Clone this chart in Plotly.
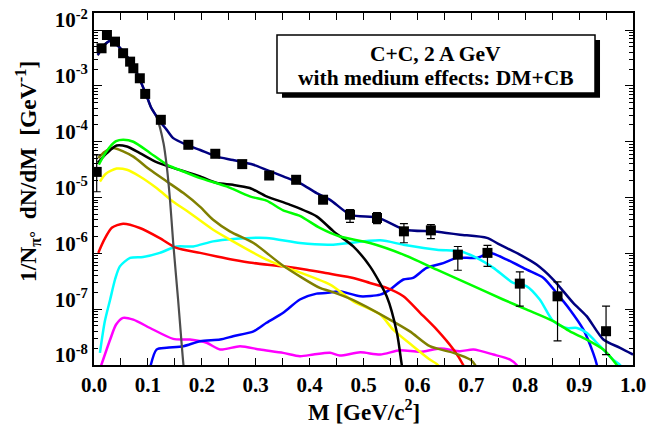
import plotly.graph_objects as go

FONT = "Liberation Serif"

# ---------------- data ----------------
# experimental points
m_data = [0.005, 0.014, 0.024, 0.039, 0.054, 0.067, 0.073, 0.085, 0.095, 0.124,
          0.175, 0.225, 0.275, 0.325, 0.375, 0.425, 0.475, 0.525, 0.575, 0.625,
          0.675, 0.730, 0.790, 0.860, 0.950]
y_data = [2.88e-5, 4.72e-3, 8.17e-3, 6.21e-3, 3.85e-3, 2.72e-3, 2.07e-3, 1.37e-3, 7.19e-4, 2.47e-4,
          8.81e-5, 6.08e-5, 3.97e-5, 2.48e-5, 2.08e-5, 9.14e-6, 4.92e-6, 4.30e-6, 2.48e-6, 2.58e-6,
          9.48e-7, 1.02e-6, 2.87e-7, 1.70e-7, 4.03e-8]
err_plus = [2.92e-5, 0, 0, 0, 0, 0, 0, 0, 0, 0,
            0, 0, 0, 0, 0, 0, 1.13e-6, 1.05e-6, 0.92e-6, 0.68e-6,
            3.8e-7, 3.7e-7, 1.78e-7, 1.38e-7, 7.27e-8]
err_minus = [1.61e-5, 0, 0, 0, 0, 0, 0, 0, 0, 0,
             0, 0, 0, 0, 0, 0, 1.33e-6, 0.90e-6, 0.93e-6, 0.75e-6,
             4.5e-7, 4.35e-7, 1.74e-7, 1.43e-7, 2.49e-8]

# total (navy)
m_tot = [0.007, 0.019, 0.030, 0.041, 0.052, 0.063, 0.074, 0.085, 0.098, 0.106, 0.116, 0.124,
         0.135, 0.147, 0.172, 0.197, 0.228, 0.258, 0.296, 0.320, 0.351, 0.382, 0.413, 0.438,
         0.476, 0.527, 0.577, 0.627, 0.654, 0.679, 0.729, 0.753, 0.790, 0.821, 0.852, 0.889,
         0.914, 0.945, 0.976, 1.000]
y_tot = [3.6e-3, 5.4e-3, 6.4e-3, 5.6e-3, 4.4e-3, 3.2e-3, 2.2e-3, 1.3e-3, 6.5e-4, 4.1e-4, 2.85e-4, 2.2e-4,
         1.63e-4, 1.16e-4, 8.8e-5, 7.1e-5, 5.4e-5, 4.7e-5, 3.86e-5, 3.14e-5, 2.39e-5, 1.82e-5, 1.2e-5, 9.1e-6,
         4.9e-6, 4.35e-6, 2.65e-6, 2.48e-6, 2.32e-6, 2.16e-6, 1.89e-6, 1.43e-6, 9.5e-7, 6.3e-7, 3.4e-7, 1.3e-7,
         7.5e-8, 2.86e-8, 2.03e-8, 1.54e-8]

# grey
m_grey = [0.007, 0.019, 0.030, 0.041, 0.052, 0.063, 0.074, 0.085, 0.098, 0.106, 0.116, 0.129,
          0.135, 0.141, 0.147, 0.156, 0.166, 0.170]
y_grey = [3.5e-3, 5.4e-3, 6.4e-3, 5.6e-3, 4.4e-3, 3.2e-3, 2.2e-3, 1.28e-3, 6.4e-4, 4.05e-4, 2.8e-4, 9.4e-5,
          3.6e-5, 9.1e-6, 1.53e-6, 1.49e-7, 1.0e-8, 5e-9]

# green
m_green = [0.009, 0.019, 0.030, 0.041, 0.054, 0.073, 0.104, 0.135, 0.166, 0.197, 0.246, 0.289,
           0.320, 0.351, 0.382, 0.419, 0.456, 0.512, 0.574, 0.636, 0.698, 0.759, 0.803, 0.852,
           0.883, 0.914, 0.945, 0.970, 0.985]
y_green = [3.9e-5, 5.8e-5, 8.2e-5, 1.02e-4, 1.08e-4, 1.0e-4, 6.3e-5, 3.9e-5, 2.93e-5, 2.23e-5, 1.58e-5, 1.05e-5,
           8.8e-6, 5.9e-6, 4.7e-6, 2.85e-6, 2.0e-6, 1.53e-6, 9.5e-7, 5.1e-7, 2.75e-7, 1.49e-7, 9.8e-8, 6.1e-8,
           4.0e-8, 2.86e-8, 1.89e-8, 1.0e-8, 6e-9]

# black
m_black = [0.007, 0.024, 0.042, 0.061, 0.085, 0.116, 0.147, 0.197, 0.228, 0.258, 0.289, 0.320,
           0.364, 0.413, 0.444, 0.481, 0.512, 0.543, 0.562, 0.571, 0.576]
y_black = [4.2e-5, 6.25e-5, 8.55e-5, 8.2e-5, 6.25e-5, 4.3e-5, 3.4e-5, 2.38e-5, 1.82e-5, 1.69e-5, 1.48e-5, 1.05e-5,
           7.4e-6, 4.6e-6, 2.5e-6, 1.33e-6, 5.85e-7, 1.7e-7, 3.77e-8, 1.0e-8, 5e-9]

# olive
m_olive = [0.008, 0.020, 0.036, 0.054, 0.073, 0.104, 0.135, 0.166, 0.197, 0.221, 0.252, 0.296,
           0.351, 0.419, 0.438, 0.481, 0.543, 0.586, 0.623, 0.667, 0.698, 0.707, 0.716]
y_olive = [5.1e-5, 6.6e-5, 7.7e-5, 6.7e-5, 5.4e-5, 3.14e-5, 1.94e-5, 1.2e-5, 6.8e-6, 4.0e-6, 2.48e-6, 1.53e-6,
           6.0e-7, 2.4e-7, 2.1e-7, 1.45e-7, 7.0e-8, 4.0e-8, 2.17e-8, 1.65e-8, 1.25e-8, 1.0e-8, 6e-9]

# yellow
m_yellow = [0.011, 0.022, 0.042, 0.061, 0.085, 0.116, 0.147, 0.172, 0.221, 0.258, 0.320, 0.351,
            0.438, 0.481, 0.531, 0.555, 0.592, 0.623, 0.638, 0.648]
y_yellow = [1.94e-5, 2.67e-5, 3.3e-5, 3.14e-5, 2.38e-5, 1.48e-5, 8.4e-6, 5.8e-6, 2.65e-6, 1.64e-6, 7.7e-7, 5.85e-7,
            2.75e-7, 1.38e-7, 8.0e-8, 4.3e-8, 2.17e-8, 1.25e-8, 1.0e-8, 6e-9]

# red
m_red = [0.008, 0.019, 0.033, 0.054, 0.085, 0.122, 0.153, 0.197, 0.228, 0.258, 0.296, 0.351,
         0.395, 0.438, 0.481, 0.512, 0.543, 0.574, 0.605, 0.636, 0.667, 0.685, 0.694]
y_red = [1.02e-6, 1.76e-6, 2.88e-6, 3.4e-6, 2.85e-6, 1.88e-6, 1.25e-6, 1.02e-6, 8.8e-7, 7.7e-7, 6.7e-7, 5.85e-7,
         5.1e-7, 4.3e-7, 3.63e-7, 2.95e-7, 2.4e-7, 1.7e-7, 8.6e-8, 4.3e-8, 1.89e-8, 1.0e-8, 6e-9]

# cyan
m_cyan = [0.011, 0.020, 0.030, 0.039, 0.048, 0.067, 0.091, 0.122, 0.153, 0.184, 0.221, 0.258,
          0.320, 0.382, 0.438, 0.531, 0.574, 0.636, 0.679, 0.710, 0.741, 0.778, 0.803, 0.827,
          0.852, 0.877, 0.896, 0.914, 0.939, 0.963, 0.976, 0.985]
y_cyan = [1.65e-8, 6.0e-8, 1.49e-7, 3.4e-7, 5.85e-7, 8.3e-7, 8.6e-7, 1.02e-6, 1.33e-6, 1.33e-6, 1.64e-6, 1.81e-6,
          1.89e-6, 1.53e-6, 1.43e-6, 1.71e-6, 1.43e-6, 1.16e-6, 1.09e-6, 8.3e-7, 5.5e-7, 2.95e-7, 2.57e-7, 1.49e-7,
          6.1e-8, 4.6e-8, 4.6e-8, 3.77e-8, 2.17e-8, 1.25e-8, 1.0e-8, 6e-9]

# blue
m_blue = [0.100, 0.116, 0.135, 0.166, 0.197, 0.234, 0.258, 0.296, 0.320, 0.351, 0.382, 0.413,
          0.438, 0.456, 0.494, 0.531, 0.549, 0.574, 0.592, 0.617, 0.648, 0.673, 0.710, 0.735,
          0.766, 0.803, 0.834, 0.858, 0.883, 0.908, 0.926, 0.933, 0.937]
y_blue = [6e-9, 1.89e-8, 2.03e-8, 2.17e-8, 2.67e-8, 2.86e-8, 3.27e-8, 4.0e-8, 5.7e-8, 8.6e-8, 1.49e-7, 1.9e-7,
          1.98e-7, 2.09e-7, 1.7e-7, 1.82e-7, 2.24e-7, 3.4e-7, 3.63e-7, 5.5e-7, 6.7e-7, 8.3e-7, 8.3e-7, 1.02e-6,
          7.7e-7, 5.1e-7, 3.63e-7, 1.96e-7, 9.8e-8, 4.3e-8, 1.65e-8, 1.0e-8, 6e-9]

# magenta
m_mag = [0.007, 0.030, 0.041, 0.054, 0.073, 0.104, 0.147, 0.178, 0.209, 0.234, 0.271, 0.308,
         0.351, 0.382, 0.407, 0.438, 0.456, 0.494, 0.531, 0.568, 0.605, 0.642, 0.679, 0.704,
         0.741, 0.772, 0.784, 0.790]
y_mag = [6.5e-9, 2.86e-8, 5.3e-8, 7.0e-8, 6.5e-8, 4.6e-8, 2.94e-8, 2.86e-8, 2.5e-8, 1.89e-8, 2.17e-8, 1.89e-8,
         1.65e-8, 1.44e-8, 1.54e-8, 1.65e-8, 1.48e-8, 1.69e-8, 1.54e-8, 1.84e-8, 1.72e-8, 1.97e-8, 1.77e-8, 1.89e-8,
         1.54e-8, 1.25e-8, 1.0e-8, 6.5e-9]

y_tickvals = [1e-8, 1e-7, 1e-6, 1e-5, 1e-4, 1e-3, 1e-2]
y_ticktext = ["10<sup>-8</sup>", "10<sup>-7</sup>", "10<sup>-6</sup>", "10<sup>-5</sup>",
              "10<sup>-4</sup>", "10<sup>-3</sup>", "10<sup>-2</sup>"]

# ---------------- figure ----------------
fig = go.Figure()

curves = [
    (m_mag, y_mag, "#ff00ff", 2.5),
    (m_blue, y_blue, "#0000ff", 2.5),
    (m_cyan, y_cyan, "#00ffff", 2.5),
    (m_red, y_red, "#ff0000", 2.5),
    (m_yellow, y_yellow, "#ffff00", 2.5),
    (m_olive, y_olive, "#808000", 2.5),
    (m_black, y_black, "#000000", 2.5),
    (m_green, y_green, "#00ff00", 2.5),
    (m_grey, y_grey, "#4d4d4d", 2.2),
    (m_tot, y_tot, "#000080", 2.5),
]
for m, y, c, w in curves:
    fig.add_trace(go.Scatter(x=m, y=y, mode="lines",
                             line=dict(color=c, width=w, shape="spline", smoothing=0.7),
                             showlegend=False, hoverinfo="skip"))

fig.add_trace(go.Scatter(
    x=m_data, y=y_data, mode="markers",
    marker=dict(symbol="square", size=10, color="black"),
    error_y=dict(type="data", array=err_plus, arrayminus=err_minus,
                 color="black", thickness=1.2, width=4),
    showlegend=False))

tickfont = dict(family=FONT, size=21, color="black", weight="bold")

fig.update_layout(
    width=648, height=428,
    margin=dict(l=94, r=15, t=13, b=63),
    plot_bgcolor="white", paper_bgcolor="white",
    showlegend=False,
)

fig.update_xaxes(
    range=[0, 1], tick0=0, dtick=0.1, tickformat=".1f",
    showline=True, linecolor="black", linewidth=1.8, mirror="allticks",
    ticks="inside", ticklen=7, tickwidth=1.2, tickcolor="black",
    minor=dict(ticks="inside", ticklen=7, tickwidth=1.2, dtick=0.05, tickcolor="black"),
    showgrid=False, zeroline=False, tickfont=tickfont, automargin=False,
)

fig.update_yaxes(
    type="log", range=[-8, -1.694],
    tickvals=y_tickvals, ticktext=y_ticktext, ticklabelshift=-10,
    showline=True, linecolor="black", linewidth=1.8, mirror="allticks",
    ticks="inside", ticklen=8, tickwidth=1.2, tickcolor="black",
    minor=dict(ticks="inside", ticklen=4, tickwidth=1, dtick="D1", tickcolor="black"),
    showgrid=False, zeroline=False, tickfont=tickfont, automargin=False,
)

# Axis titles
fig.add_annotation(text="M [GeV/c<sup>2</sup>]", xref="paper", yref="paper",
                   x=0.5, y=-0.129, xanchor="center", yanchor="middle", showarrow=False,
                   font=dict(family=FONT, size=23, color="black", weight="bold"))
fig.add_annotation(text="1/N<sub>π°</sub>  dN/dM  [GeV<sup>-1</sup>]", xref="paper", yref="paper",
                   x=-0.1215, y=0.55, xanchor="center", yanchor="middle", showarrow=False,
                   textangle=-90,
                   font=dict(family=FONT, size=23.5, color="black", weight="bold"))

# Info box with drop shadow
fig.add_shape(type="rect", xref="paper", yref="paper", x0=0.3488, x1=0.9388, y0=0.7589, y1=0.9234,
              fillcolor="black", line=dict(color="black", width=0), layer="above")
fig.add_shape(type="rect", xref="paper", yref="paper", x0=0.3395, x1=0.9295, y0=0.773, y1=0.9376,
              fillcolor="white", line=dict(color="black", width=1.5), layer="above")
fig.add_annotation(text="C+C, 2 A GeV", xref="paper", yref="paper", x=0.6345, y=0.8823,
                   xanchor="center", yanchor="middle", showarrow=False,
                   font=dict(family=FONT, size=21.5, color="black", weight="bold"))
fig.add_annotation(text="with medium effects: DM+CB", xref="paper", yref="paper", x=0.6345, y=0.8156,
                   xanchor="center", yanchor="middle", showarrow=False,
                   font=dict(family=FONT, size=21.5, color="black", weight="bold"))

fig.write_html("out.html", config={"displayModeBar": False},
               post_script="document.body.style.margin='0';document.body.style.overflow='hidden';")
